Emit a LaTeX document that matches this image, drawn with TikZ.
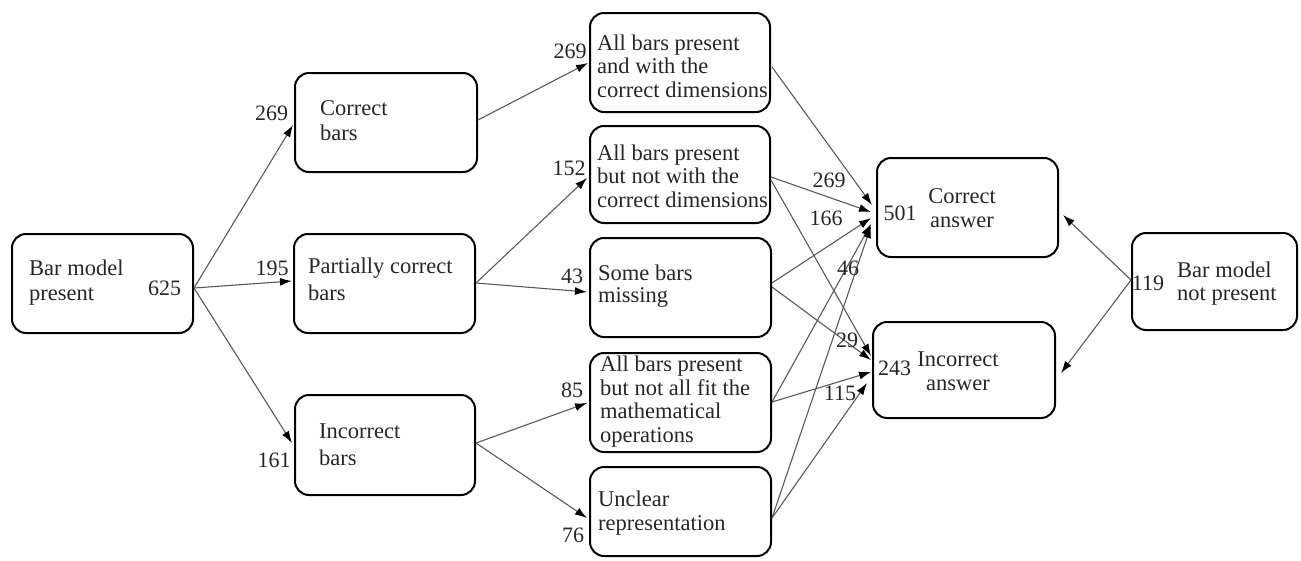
\documentclass[tikz,border=0pt]{standalone}
\usepackage{fontspec}
\setmainfont{Liberation Serif}
\usetikzlibrary{arrows.meta,calc}
\begin{document}
\begin{tikzpicture}[x=1pt,y=-1pt,
  box/.style={draw=black, line width=2pt, rounded corners=14pt, inner sep=0pt},
  txt/.style={anchor=base west, align=left, inner sep=0pt, text=black!85, font=\fontsize{22.5}{25}\selectfont},
  mtxt/.style={txt, font=\fontsize{22.5}{23.5}\selectfont},
  ctxt/.style={anchor=base, align=center, inner sep=0pt, text=black!85, font=\fontsize{22.5}{24}\selectfont},
  num/.style={anchor=base, inner sep=0pt, text=black!85, font=\fontsize{22}{25}\selectfont},
  conn/.style={draw=black!65, line width=1.1pt, -{Latex[length=12pt,width=8pt,color=black]}}]
\useasboundingbox (0,0) rectangle (1301,560);
% boxes
\node[box, minimum width=181pt, minimum height=99pt] (A) at (102.5,283.5) {};
\node[box, minimum width=182pt, minimum height=99pt] (B) at (386,122.5) {};
\node[box, minimum width=181pt, minimum height=99pt] (P) at (384.5,283.5) {};
\node[box, minimum width=180pt, minimum height=100pt] (I) at (385,445) {};
\node[box, minimum width=180pt, minimum height=99pt] (C1) at (680,62.5) {};
\node[box, minimum width=180pt, minimum height=97pt] (C2) at (680,174.5) {};
\node[box, minimum width=181pt, minimum height=99pt] (C3) at (680.5,287.5) {};
\node[box, minimum width=181pt, minimum height=99pt] (C4) at (680.5,402.5) {};
\node[box, minimum width=181pt, minimum height=89pt] (C5) at (680.5,511.5) {};
\node[box, minimum width=181pt, minimum height=99pt] (CA) at (967.5,207.5) {};
\node[box, minimum width=182pt, minimum height=96pt] (IA) at (964,370) {};
\node[box, minimum width=165pt, minimum height=97pt] (NP) at (1214.5,281.5) {};
% texts (anchor = baseline of the last line)
\node[txt] (At) at (29,300) {Bar model\\present};
\node[txt] (Bt) at (320,140) {Correct\\bars};
\node[txt, font=\fontsize{22.5}{27}\selectfont] (Pt) at (308,300) {Partially correct\\bars};
\node[txt, font=\fontsize{22.5}{27}\selectfont] (It) at (319,465) {Incorrect\\bars};
\node[mtxt] (C1t) at (597,97) {All bars present\\and with the\\correct dimensions};
\node[mtxt] (C2t) at (597,207) {All bars present\\but not with the\\correct dimensions};
\node[mtxt, font=\fontsize{22.5}{22}\selectfont] (C3t) at (598,302) {Some bars\\missing};
\node[mtxt] (C4t) at (600,442) {All bars present\\but not all fit the\\mathematical\\operations};
\node[mtxt] (C5t) at (598,530) {Unclear\\representation};
\node[ctxt] (CAt) at (962,227) {Correct\\answer};
\node[ctxt] (IAt) at (958,390) {Incorrect\\answer};
\node[txt, font=\fontsize{22.5}{23}\selectfont] (NPt) at (1177,300) {Bar model\\not present};
% numbers inside boxes
\node[num] (n625) at (164.5,295) {625};
\node[num] (n501) at (900,220) {501};
\node[num] (n243) at (894.5,375) {243};
\node[num] (n119) at (1148,290) {119};
% connectors
\draw[conn] ($(A.east)+(0,4.5)$) -- ($(B.west)+(-1,2.5)$);
\draw[conn] ($(A.east)+(0,4.5)$) -- ($(P.west)+(-1,-2.5)$);
\draw[conn] ($(A.east)+(0,4.5)$) -- ($(I.west)+(-2,-2)$);
\draw[conn] ($(B.east)+(0,-2.5)$) -- ($(C1.west)+(-1,0.5)$);
\draw[conn] ($(P.east)+(0,-0.5)$) -- ($(C2.west)+(-2,3.5)$);
\draw[conn] ($(P.east)+(0,-0.5)$) -- ($(C3.west)+(-2,4.5)$);
\draw[conn] ($(I.east)+(0,-2)$) -- ($(C4.west)+(-2,0.5)$);
\draw[conn] ($(I.east)+(0,-2)$) -- ($(C5.west)+(-2,6.5)$);
\draw[conn] ($(C1.east)+(1,4.5)$) -- ($(CA.west)+(-4,-2.5)$);
\draw[conn] ($(C2.east)+(0,2.5)$) -- ($(CA.west)+(-5,4.5)$);
\draw[conn] ($(C2.east)+(0,5.5)$) -- ($(IA.west)+(-1,-14)$);
\draw[conn] ($(C3.east)+(0,-4.5)$) -- ($(CA.west)+(-5,10.5)$);
\draw[conn] ($(C3.east)+(0,-0.5)$) -- ($(IA.west)+(-1,-10)$);
\draw[conn] ($(C4.east)+(0,-0.5)$) -- ($(CA.west)+(-5,16.5)$);
\draw[conn] ($(C4.east)+(0,-0.5)$) -- ($(IA.west)+(-1,2)$);
\draw[conn] ($(C5.east)+(0,6.5)$) -- ($(CA.west)+(-5,18.5)$);
\draw[conn] ($(C5.east)+(0,6.5)$) -- ($(IA.west)+(-5,13)$);
\draw[conn] ($(NP.west)+(0,-1.5)$) -- ($(CA.east)+(4,7.5)$);
\draw[conn] ($(NP.west)+(0,-1.5)$) -- ($(IA.east)+(5,3)$);
% connector labels
\node[num] (l1) at (271.5,120) {269};
\node[num] (l2) at (272,275) {195};
\node[num] (l3) at (274,467) {161};
\node[num] (l4) at (570,58) {269};
\node[num] (l5) at (569,175) {152};
\node[num] (l6) at (572,283) {43};
\node[num] (l7) at (572,397) {85};
\node[num] (l8) at (573,542) {76};
\node[num] (l9) at (829,187) {269};
\node[num] (l10) at (826,225) {166};
\node[num] (l11) at (848,275) {46};
\node[num] (l12) at (847,347) {29};
\node[num] (l13) at (840,400) {115};
\end{tikzpicture}
\end{document}
